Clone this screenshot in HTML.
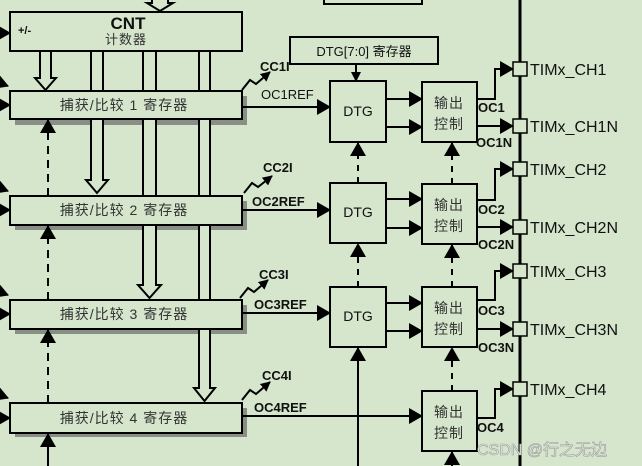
<!DOCTYPE html>
<html><head><meta charset="utf-8"><style>
html,body{margin:0;padding:0;background:#d5e6cc;}
svg{display:block;}
text{font-family:"Liberation Sans","Noto Sans CJK SC",sans-serif;fill:#111;}
.cn{fill:#333;font-size:14px;letter-spacing:1px;}
.b{font-weight:bold;font-size:13px;}
.pin{font-size:16px;}
</style></head><body>
<svg width="642" height="466" viewBox="0 0 642 466" xmlns="http://www.w3.org/2000/svg">
<rect width="642" height="466" fill="#d5e6cc"/>
<defs>
<marker id="ah" markerWidth="14" markerHeight="16" refX="13" refY="8" orient="auto" markerUnits="userSpaceOnUse"><path d="M0,0 L14,8 L0,16z" fill="#000"/></marker>
<marker id="as" markerWidth="10" markerHeight="10" refX="9" refY="5" orient="auto" markerUnits="userSpaceOnUse"><path d="M0,0 L10,5 L0,10z" fill="#000"/></marker>
</defs>
<g stroke="#000" stroke-width="2" fill="none">
<path d="M324,0 V4 H422 V0"/>
<path d="M152,0 V3 H147 L160,11 L173,3 H168 V0" fill="#d5e6cc"/>
</g>
<g fill="#8a8f86">
<rect x="15" y="96" width="232" height="29"/>
<rect x="15" y="201" width="232" height="29"/>
<rect x="15" y="305" width="232" height="29"/>
<rect x="15" y="408" width="232" height="29"/>
</g>
<g stroke="#000" stroke-width="2" fill="#d5e6cc">
<path d="M40,51 V78 H35 L45.5,90 L56,78 H51 V51"/>
<path d="M91,51 V180 H86 L97,193 L108,180 H103 V51"/>
<path d="M143,51 V285 H138 L149.5,298 L161,285 H156 V51"/>
<path d="M199,51 V388 H194 L204.5,401 L215,388 H210 V51"/>
<rect x="10" y="12" width="232" height="39"/>
<rect x="10" y="91" width="232" height="28"/>
<rect x="10" y="196" width="232" height="29"/>
<rect x="10" y="300" width="232" height="29"/>
<rect x="10" y="403" width="232" height="30"/>
<rect x="290" y="37" width="148" height="27"/>
<rect x="330" y="81" width="56" height="61"/>
<rect x="330" y="183" width="56" height="60"/>
<rect x="330" y="287" width="56" height="60"/>
<rect x="422" y="82" width="55" height="60"/>
<rect x="422" y="184" width="55" height="60"/>
<rect x="422" y="287" width="55" height="60"/>
<rect x="422" y="391" width="55" height="60"/>
</g>
<line x1="520" y1="0" x2="520" y2="466" stroke="#000" stroke-width="3"/>
<g stroke="#000" stroke-width="2" fill="none" marker-end="url(#ah)">
<line x1="0" y1="33" x2="10" y2="33"/>
<line x1="0" y1="83" x2="8" y2="86"/><line x1="0" y1="105" x2="10" y2="105"/>
<line x1="0" y1="188" x2="8" y2="191"/><line x1="0" y1="210" x2="10" y2="210"/>
<line x1="0" y1="292" x2="8" y2="295"/><line x1="0" y1="314" x2="10" y2="314"/>
<line x1="0" y1="395" x2="8" y2="398"/><line x1="0" y1="418" x2="10" y2="418"/>
<line x1="242" y1="107" x2="330" y2="107"/>
<line x1="242" y1="210" x2="330" y2="210"/>
<line x1="242" y1="313" x2="330" y2="313"/>
<line x1="242" y1="416" x2="422" y2="416"/>
<line x1="386" y1="99" x2="422" y2="99"/><line x1="386" y1="127" x2="422" y2="127"/>
<line x1="386" y1="199" x2="422" y2="199"/><line x1="386" y1="228" x2="422" y2="228"/>
<line x1="386" y1="303" x2="422" y2="303"/><line x1="386" y1="331" x2="422" y2="331"/>
<polyline points="477,99 495,99 495,69 513,69"/>
<line x1="477" y1="126" x2="513" y2="126"/>
<polyline points="477,200 495,200 495,169 513,169"/>
<line x1="477" y1="227" x2="513" y2="227"/>
<polyline points="477,300 495,300 495,271 513,271"/>
<line x1="477" y1="329" x2="513" y2="329"/>
<polyline points="477,418 495,418 495,389 513,389"/>
<line x1="48" y1="196" x2="48" y2="120" stroke-dasharray="8,6"/>
<line x1="48" y1="300" x2="48" y2="226" stroke-dasharray="8,6"/>
<line x1="48" y1="403" x2="48" y2="330" stroke-dasharray="8,6"/>
<line x1="48" y1="466" x2="48" y2="434"/>
<line x1="358" y1="183" x2="358" y2="143" stroke-dasharray="6,6"/>
<line x1="358" y1="287" x2="358" y2="244" stroke-dasharray="6,6"/>
<line x1="358" y1="466" x2="358" y2="348"/>
<line x1="452" y1="184" x2="452" y2="143" stroke-dasharray="6,6"/>
<line x1="452" y1="287" x2="452" y2="245" stroke-dasharray="6,6"/>
<line x1="452" y1="391" x2="452" y2="348" stroke-dasharray="6,6"/>
<line x1="452" y1="466" x2="452" y2="452"/>
</g>
<g stroke="#000" stroke-width="2" fill="none" marker-end="url(#as)">
<line x1="356" y1="64" x2="356" y2="81"/>
<polyline points="242,90 250,80 256,84 270,72"/>
<polyline points="244,193 252,183 258,187 272,176"/>
<polyline points="240,298 248,288 254,292 268,280"/>
<polyline points="242,400 250,390 256,394 270,382"/>
</g>
<g stroke="#000" stroke-width="1.5" fill="#d5e6cc">
<rect x="513" y="62" width="14" height="14"/>
<rect x="513" y="119" width="14" height="14"/>
<rect x="513" y="162" width="14" height="14"/>
<rect x="513" y="220" width="14" height="14"/>
<rect x="513" y="264" width="14" height="14"/>
<rect x="513" y="322" width="14" height="14"/>
<rect x="513" y="382" width="14" height="14"/>
</g>
<text x="128" y="29" text-anchor="middle" style="font-weight:bold;font-size:17px">CNT</text>
<text x="126" y="44" text-anchor="middle" class="cn" style="font-size:13px">计数器</text>
<text x="18" y="34" style="font-size:11px;font-weight:bold">+/-</text>
<text x="124" y="110" text-anchor="middle" class="cn">捕获/比较 1 寄存器</text>
<text x="124" y="215" text-anchor="middle" class="cn">捕获/比较 2 寄存器</text>
<text x="124" y="319" text-anchor="middle" class="cn">捕获/比较 3 寄存器</text>
<text x="124" y="423" text-anchor="middle" class="cn">捕获/比较 4 寄存器</text>
<text x="364" y="56" text-anchor="middle" style="font-size:13px">DTG[7:0] 寄存器</text>
<text x="358" y="116" text-anchor="middle" style="font-size:14px">DTG</text>
<text x="358" y="217" text-anchor="middle" style="font-size:14px">DTG</text>
<text x="358" y="321" text-anchor="middle" style="font-size:14px">DTG</text>
<text x="449" y="108" text-anchor="middle" class="cn">输出</text><text x="449" y="129" text-anchor="middle" class="cn">控制</text>
<text x="449" y="210" text-anchor="middle" class="cn">输出</text><text x="449" y="231" text-anchor="middle" class="cn">控制</text>
<text x="449" y="313" text-anchor="middle" class="cn">输出</text><text x="449" y="334" text-anchor="middle" class="cn">控制</text>
<text x="449" y="417" text-anchor="middle" class="cn">输出</text><text x="449" y="438" text-anchor="middle" class="cn">控制</text>
<text x="260" y="71" class="b">CC1I</text>
<text x="261" y="99" style="font-size:13px">OC1REF</text>
<text x="263" y="172" class="b">CC2I</text>
<text x="252" y="206" class="b">OC2REF</text>
<text x="259" y="279" class="b">CC3I</text>
<text x="254" y="309" class="b">OC3REF</text>
<text x="262" y="380" class="b">CC4I</text>
<text x="254" y="412" class="b">OC4REF</text>
<text x="478" y="112" class="b">OC1</text>
<text x="476" y="147" class="b">OC1N</text>
<text x="478" y="214" class="b">OC2</text>
<text x="478" y="249" class="b">OC2N</text>
<text x="478" y="315" class="b">OC3</text>
<text x="478" y="352" class="b">OC3N</text>
<text x="477" y="432" class="b">OC4</text>
<text x="530" y="75" class="pin">TIMx_CH1</text>
<text x="530" y="132" class="pin">TIMx_CH1N</text>
<text x="530" y="175" class="pin">TIMx_CH2</text>
<text x="530" y="233" class="pin">TIMx_CH2N</text>
<text x="530" y="277" class="pin">TIMx_CH3</text>
<text x="530" y="335" class="pin">TIMx_CH3N</text>
<text x="530" y="395" class="pin">TIMx_CH4</text>
<text x="477" y="455" style="font-size:16px;fill:#eef2ea;stroke:#999;stroke-width:0.6">CSDN @行之无边</text>
</svg>
</body></html>
